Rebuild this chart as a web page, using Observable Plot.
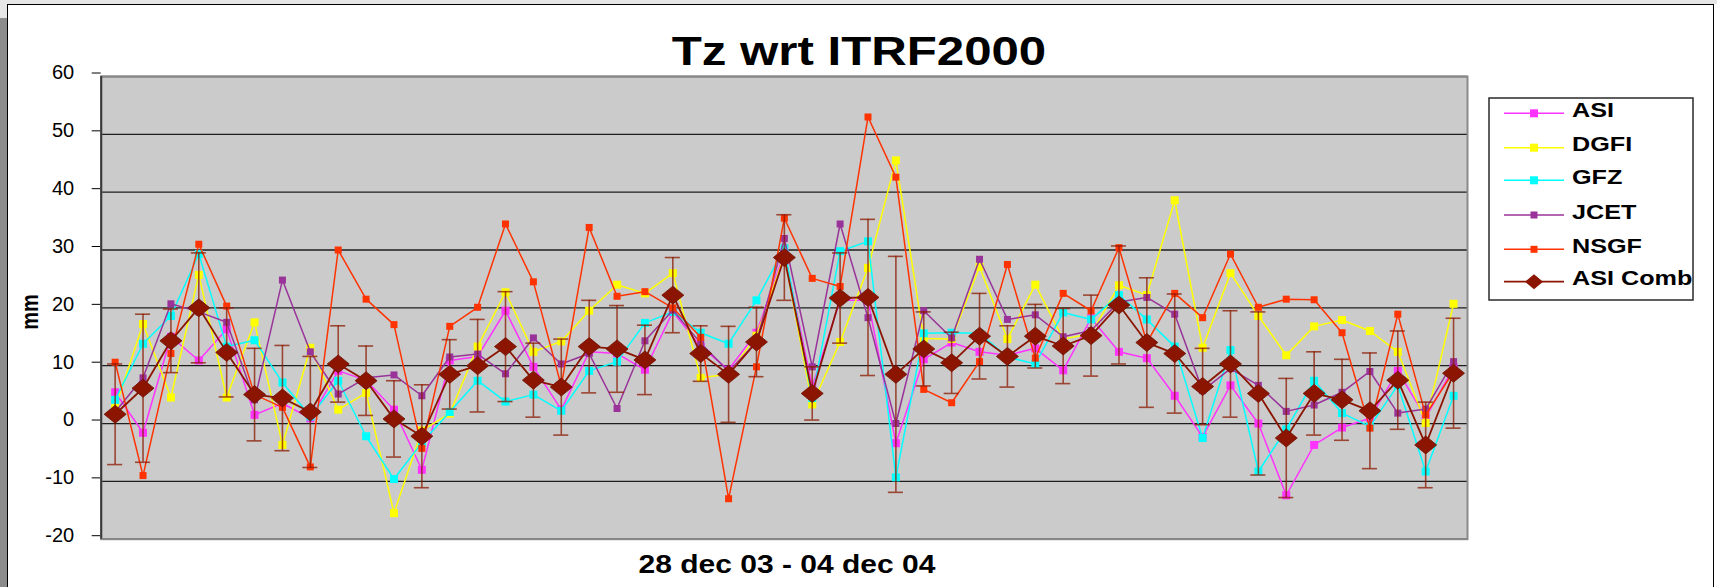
<!DOCTYPE html>
<html><head><meta charset="utf-8">
<script src="https://cdn.jsdelivr.net/npm/d3@7"></script>
<script src="https://cdn.jsdelivr.net/npm/@observablehq/plot@0.6"></script>
<style>
html,body{margin:0;padding:0;background:#fff;}
#wrap{position:relative;width:1717px;height:587px;overflow:hidden;font-family:"Liberation Sans",Arial,sans-serif;}
.abs{position:absolute;}
</style></head><body><div id="wrap"></div>
<script>
// ---- data (weekly solutions, 28 dec 03 - 04 dec 04) ----
const weeks = d3.range(49);
const ASI  = [5.4,-1.6,15.0,10.9,16.3,1.5,3.5,0.9,9.1,7.5,2.4,-8.0,10.9,11.6,19.5,9.8,2.4,12.4,12.1,9.3,19.3,13.3,9.3,15.7,29.5,6.4,21.3,21.3,-3.4,11.1,14.0,12.4,11.8,13.0,9.2,18.2,12.4,11.3,4.8,-2.3,6.6,0.0,-12.4,-3.7,-0.7,0.9,9.1,1.0,9.7];
const DGFI = [2.7,17.2,4.5,25.7,4.5,17.5,-3.7,13.1,2.4,5.3,-15.5,-1.2,1.7,13.3,22.7,12.4,14.2,19.5,24.0,22.5,26.0,7.9,8.5,15.2,29.0,3.3,14.1,26.9,45.5,14.7,14.6,27.1,14.6,24.0,14.6,15.5,23.9,22.2,38.6,13.1,26.0,18.6,11.8,16.8,17.9,16.0,12.4,0.1,20.7];
const GFZ  = [4.1,13.8,18.6,29.3,13.3,14.4,7.1,1.2,7.4,-2.2,-9.6,-3.3,2.0,7.4,3.8,5.0,2.2,9.1,10.7,17.4,19.3,15.7,13.8,21.3,30.3,4.4,29.8,31.5,-9.3,15.6,15.7,15.6,11.5,10.3,19.2,18.0,22.2,18.0,13.3,-2.5,12.7,-8.3,-1.0,7.4,1.8,-0.5,6.6,-8.3,4.8];
const JCET = [2.0,7.9,20.7,19.3,17.5,4.1,24.8,12.4,5.1,7.9,8.4,4.8,11.5,12.0,8.6,14.8,10.3,12.1,2.6,14.3,19.6,13.9,9.0,14.1,32.0,9.8,34.5,18.3,0.0,19.5,14.8,28.4,18.0,18.8,15.0,16.1,21.0,21.8,18.9,5.7,9.5,6.6,2.1,3.2,5.4,9.0,1.8,2.5,10.7];
const NSGF = [10.6,-9.0,12.1,31.0,20.3,5.0,2.8,-7.5,30.0,21.5,17.1,-4.3,16.8,20.1,34.5,24.5,6.5,33.9,22.0,22.8,20.0,14.9,-13.0,9.8,35.5,25.1,23.7,53.0,42.6,5.9,3.6,10.7,27.5,11.3,22.5,19.5,30.4,14.0,22.5,18.3,29.3,20.1,21.5,21.4,15.7,-0.8,18.9,1.5,9.0];
const COMB = [1.6,6.1,14.3,20.0,12.3,5.0,4.4,2.0,10.3,7.4,0.8,-2.2,8.5,10.0,13.3,7.5,6.3,13.3,12.9,11.0,22.2,12.1,8.5,14.1,28.7,5.2,21.7,21.8,8.5,12.9,10.5,15.1,11.6,15.1,13.4,15.2,20.5,14.0,12.1,6.4,10.3,5.2,-2.5,5.2,4.1,2.2,7.5,-3.7,8.7];
const COMB_ERR = [8.7,12.8,5.5,9.5,7.7,8.0,9.1,9.6,6.6,6.0,6.6,8.9,6.0,8.0,9.5,6.4,8.3,8.0,7.5,6.0,6.5,4.8,8.3,6.0,7.4,4.6,7.8,13.5,20.4,6.4,5.3,7.4,5.3,5.5,6.5,7.0,10.2,11.2,10.3,6.6,9.2,14.1,10.3,7.2,7.0,10.0,8.5,7.4,9.5];

const seriesNames  = ["ASI","DGFI","GFZ","JCET","NSGF","ASI Comb"];
const seriesColors = ["#ff33ff","#ffff00","#00ffff","#993399","#ff3300","#8b1500"];
const yTicks = [-20,-10,0,10,20,30,40,50,60];
const titleText = "Tz wrt ITRF2000";
const xLabelText = "28 dec 03 - 04 dec 04";
const yLabelText = "mm";

// ---- helpers ----
const baseSeries = [ASI, DGFI, GFZ, JCET, NSGF];
const markerSide = [8, 8, 8, 7, 7];
const rowsOf = vals => vals.map((v, i) => ({i: weeks[i], v}));
const square = s => ({draw(ctx){ ctx.moveTo(-s/2,-s/2); ctx.lineTo(s/2,-s/2); ctx.lineTo(s/2,s/2); ctx.lineTo(-s/2,s/2); ctx.closePath(); }});
const diamond = (w, h) => ({draw(ctx){ ctx.moveTo(0,-h); ctx.lineTo(w,0); ctx.lineTo(0,h); ctx.lineTo(-w,0); ctx.closePath(); }});
const combRows = COMB.map((v, i) => ({i: weeks[i], v, e: COMB_ERR[i]}));

const marks = [
  Plot.frame({fill: "#cbcbcb"}),
  Plot.ruleY(yTicks, {stroke: "#1e1e1e", strokeWidth: 1.3}),
  Plot.axisY(yTicks, {tickSize: 9, tickPadding: 18, fontSize: 20, dy: -3.5, label: null, stroke: "#000", fill: "#000", tickFormat: d => String(d)})
];
baseSeries.forEach((vals, k) => {
  const rows = rowsOf(vals);
  marks.push(Plot.line(rows, {x: "i", y: "v", stroke: seriesColors[k], strokeWidth: 1.5}));
  marks.push(Plot.dot(rows, {x: "i", y: "v", symbol: square(markerSide[k]), fill: seriesColors[k], stroke: "none", r: 4}));
});
marks.push(
  Plot.ruleX(combRows, {x: "i", y1: d => d.v - d.e, y2: d => d.v + d.e, stroke: "#8b1a00", strokeOpacity: 0.75, strokeWidth: 1.6}),
  Plot.ruleY(combRows, {y: d => d.v + d.e, x1: d => d.i - 0.27, x2: d => d.i + 0.27, stroke: "#8b1a00", strokeOpacity: 0.75, strokeWidth: 1.6}),
  Plot.ruleY(combRows, {y: d => d.v - d.e, x1: d => d.i - 0.27, x2: d => d.i + 0.27, stroke: "#8b1a00", strokeOpacity: 0.75, strokeWidth: 1.6}),
  Plot.line(combRows, {x: "i", y: "v", stroke: seriesColors[5], strokeWidth: 1.8}),
  Plot.dot(combRows, {x: "i", y: "v", symbol: diamond(11, 9), fill: seriesColors[5], stroke: "#6e1000", strokeWidth: 0.8, r: 9}),
  Plot.frame({stroke: "#8a8a8a", strokeWidth: 2}),
  Plot.ruleX([-0.5], {stroke: "#3a3a3a", strokeWidth: 2})
);

const chart = Plot.plot({
  width: 1717, height: 587,
  marginLeft: 100.7, marginRight: 250, marginTop: 76, marginBottom: 48.3,
  x: {domain: [-0.5, 48.5], axis: null},
  y: {domain: [-20, 60]},
  style: {background: "transparent", fontFamily: '"Liberation Sans", Arial, sans-serif', color: "#000", overflow: "visible"},
  marks
});

// ---- page frame ----
const wrap = document.getElementById("wrap");
function box(css){ const d = document.createElement("div"); d.className = "abs"; Object.assign(d.style, css); wrap.appendChild(d); return d; }
box({left: "0px", top: "0px", width: "1717px", height: "4px", background: "#e6e6e6"});
box({left: "0px", top: "0px", width: "7px", height: "587px", background: "linear-gradient(#e6e6e6 0 18px, #8c8c8c 18px)"});
box({left: "7px", top: "4px", width: "1705px", height: "640px", border: "1.5px solid #000", background: "#fff"});
chart.style.position = "absolute"; chart.style.left = "0px"; chart.style.top = "0px";
wrap.appendChild(chart);

// ---- overlay: title, axis titles, legend ----
const ov = d3.select(wrap).append("svg").attr("class", "abs")
  .attr("width", 1717).attr("height", 587).style("left", "0px").style("top", "0px")
  .style("font-family", '"Liberation Sans", Arial, sans-serif');
ov.append("text").attr("transform", "translate(859,65) scale(1.2,1)").attr("text-anchor", "middle")
  .attr("font-weight", "bold").attr("font-size", 41).text(titleText);
ov.append("text").attr("transform", "translate(787,573) scale(1.2,1)").attr("text-anchor", "middle")
  .attr("font-weight", "bold").attr("font-size", 25).text(xLabelText);
ov.append("text").attr("transform", "translate(38,312) scale(1.2,1) rotate(-90)").attr("text-anchor", "middle")
  .attr("font-weight", "bold").attr("font-size", 20).text(yLabelText);

const lg = ov.append("g");
lg.append("rect").attr("x", 1489).attr("y", 98).attr("width", 204).attr("height", 202)
  .attr("fill", "#fff").attr("stroke", "#2a2a2a").attr("stroke-width", 1.5);
const legendY = [113.3, 147.7, 180.3, 215, 249.3, 281.7];
seriesNames.forEach((name, k) => {
  const y = legendY[k];
  lg.append("line").attr("x1", 1504).attr("x2", 1564).attr("y1", y).attr("y2", y)
    .attr("stroke", seriesColors[k]).attr("stroke-width", k === 5 ? 1.8 : 1.5);
  if (k < 5) {
    const s = markerSide[k];
    lg.append("rect").attr("x", 1534 - s/2).attr("y", y - s/2).attr("width", s).attr("height", s).attr("fill", seriesColors[k]);
  } else {
    lg.append("path").attr("d", `M1534,${y-7.5}L1543,${y}L1534,${y+7.5}L1525,${y}Z`).attr("fill", seriesColors[k]);
  }
  lg.append("text").attr("transform", `translate(1572,${y + 3.6}) scale(1.2,1)`)
    .attr("font-weight", "bold").attr("font-size", 21).text(name);
});
</script></body></html>
